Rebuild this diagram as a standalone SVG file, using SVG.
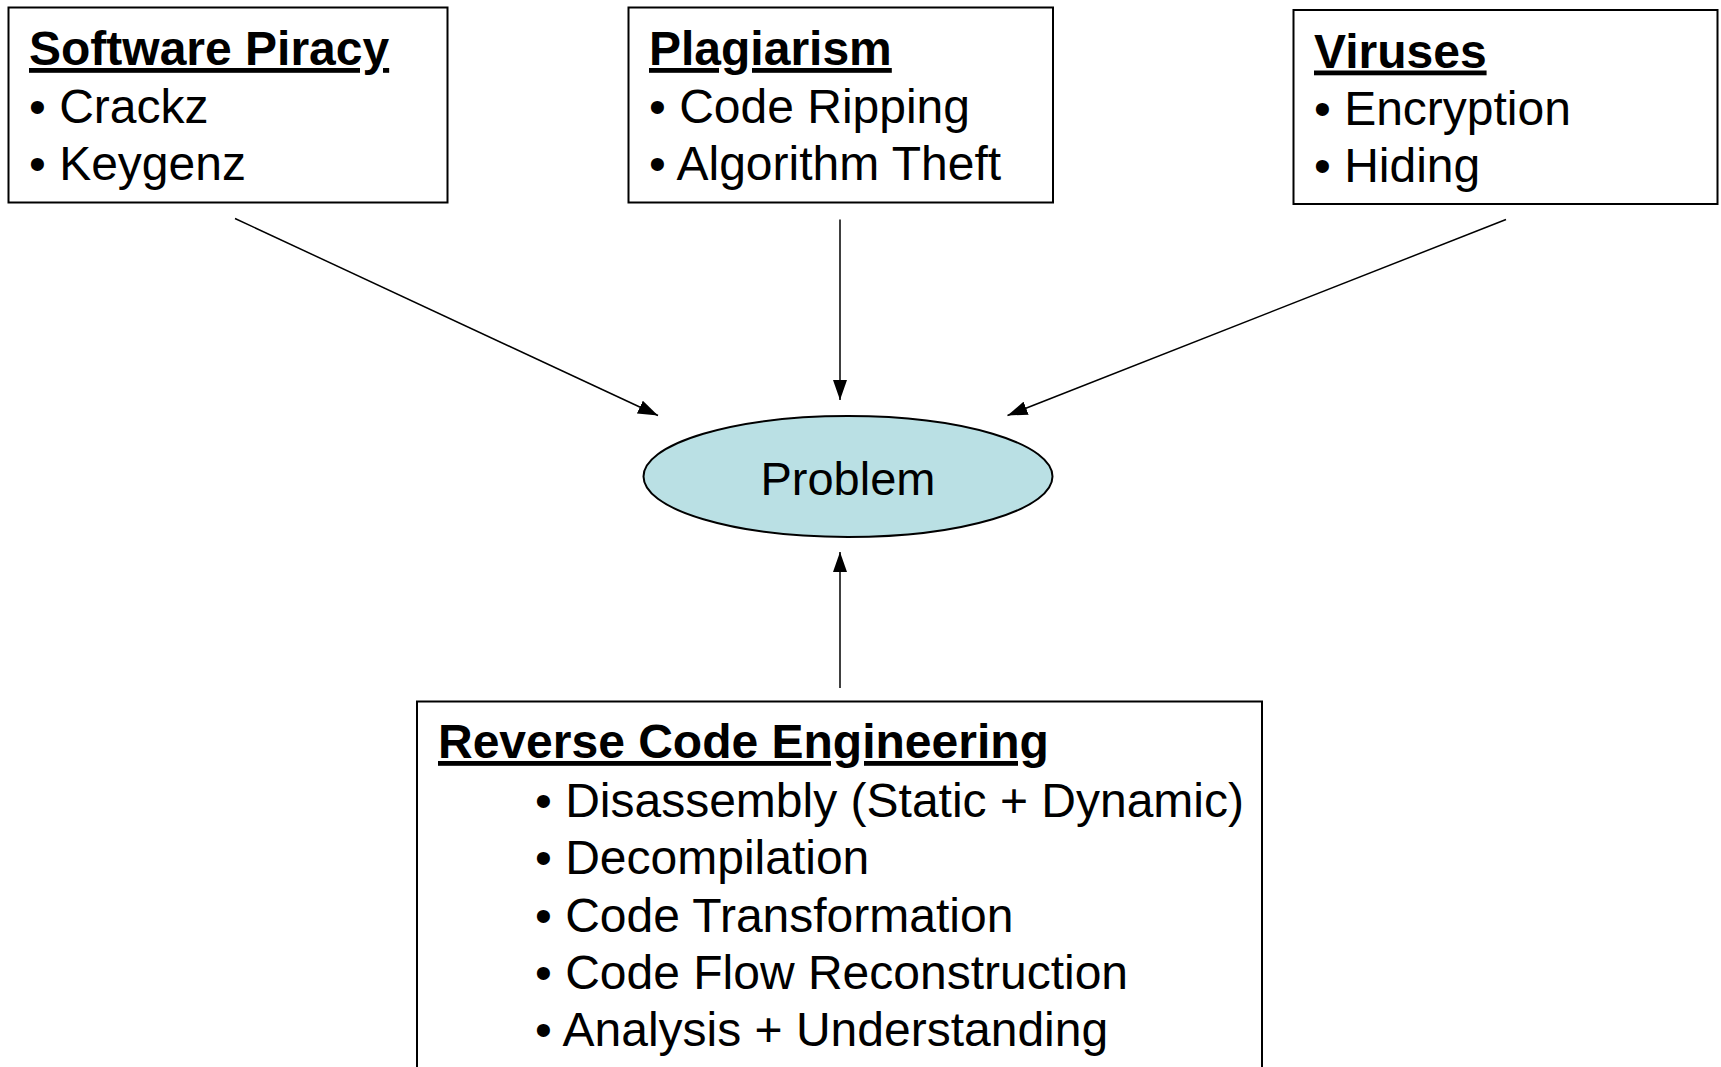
<svg xmlns="http://www.w3.org/2000/svg" width="1721" height="1067" viewBox="0 0 1721 1067">
<style>
.box{fill:#fff;stroke:#000;stroke-width:2}
.t{font-family:"Liberation Sans",Arial,sans-serif;font-size:48px;fill:#000}
.h{font-weight:bold;text-decoration:underline;text-decoration-skip-ink:none;text-decoration-thickness:4px}
.c{stroke:#000;stroke-width:1.5;fill:none;marker-end:url(#ah)}
</style>
<defs>
<marker id="ah" markerUnits="userSpaceOnUse" markerWidth="20" markerHeight="14" refX="20" refY="7" orient="auto" viewBox="0 0 20 14">
<path d="M0,0 L20,7 L0,14 z" fill="#000"/>
</marker>
</defs>
<rect width="1721" height="1067" fill="#fff"/>
<g id="connectors">
<line class="c" x1="235" y1="218.5" x2="658" y2="415.5"/>
<line class="c" x1="840" y1="219.5" x2="840" y2="400"/>
<line class="c" x1="1506" y1="219.5" x2="1007.5" y2="415.5"/>
<line class="c" x1="840" y1="688" x2="840" y2="552"/>
</g>
<g id="software-piracy">
<rect class="box" x="8.5" y="7.5" width="439" height="195"/>
<text class="t h" x="29" y="65">Software Piracy</text>
<text class="t" x="29" y="123">• Crackz</text>
<text class="t" x="29" y="180">• Keygenz</text>
</g>
<g id="plagiarism">
<rect class="box" x="628.5" y="7.5" width="424.5" height="195"/>
<text class="t h" x="649" y="65">Plagiarism</text>
<text class="t" x="649" y="123">• Code Ripping</text>
<text class="t" x="649" y="180">• Algorithm Theft</text>
</g>
<g id="viruses">
<rect class="box" x="1293.5" y="10" width="424" height="194"/>
<text class="t h" x="1314" y="67.5">Viruses</text>
<text class="t" x="1314" y="125">• Encryption</text>
<text class="t" x="1314" y="182">• Hiding</text>
</g>
<g id="problem">
<ellipse cx="848" cy="476.5" rx="204.5" ry="60.5" fill="#BAE0E4" stroke="#000" stroke-width="2"/>
<text class="t" x="848" y="495" text-anchor="middle" style="font-size:47px">Problem</text>
</g>
<g id="reverse-code-engineering">
<rect class="box" x="417" y="701.5" width="845" height="400"/>
<text class="t h" x="438" y="758">Reverse Code Engineering</text>
<text class="t" x="535" y="816.5">• Disassembly (Static + Dynamic)</text>
<text class="t" x="535" y="874">• Decompilation</text>
<text class="t" x="535" y="931.5">• Code Transformation</text>
<text class="t" x="535" y="988.5">• Code Flow Reconstruction</text>
<text class="t" x="535" y="1045.5">• Analysis + Understanding</text>
</g>
</svg>
